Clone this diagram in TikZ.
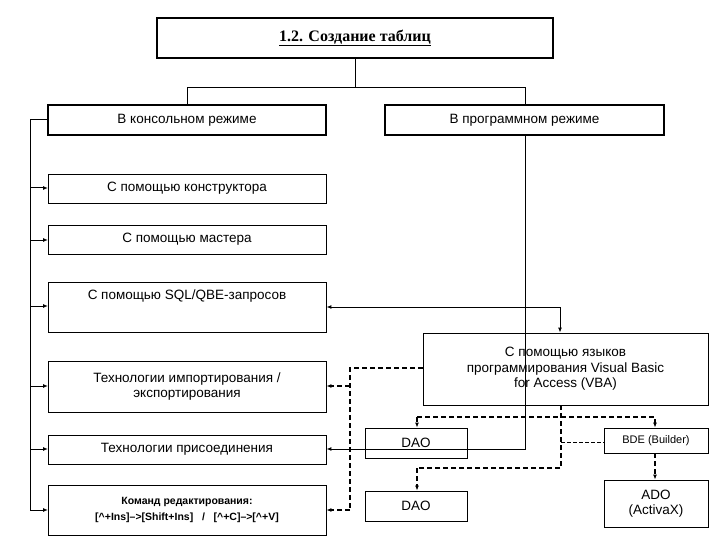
\documentclass[tikz,border=0pt]{standalone}
\usepackage{fontspec}
\setmainfont{Liberation Sans}
\newfontfamily\serifttl{Liberation Serif}
\usetikzlibrary{arrows.meta}
\begin{document}
\begin{tikzpicture}[x=1pt,y=-1pt,
  bx/.style={draw,line width=0.8pt,inner sep=0pt,font=\fontsize{13.5}{15.5}\selectfont,align=center},
  ar/.style={-{Latex[length=5pt,width=4pt]},line width=1pt},
  dar/.style={-{Latex[length=5pt,width=4pt]},line width=1.2pt,dash pattern=on 5pt off 3pt}]
\useasboundingbox (0,0) rectangle (720,540);
\newcommand{\bxat}[6]{\node[bx,minimum width=#3-#2,minimum height=#5-#4,#6] at ({(#2+#3)/2},{(#4+#5)/2})}
\bxat{t}{157}{553}{18}{58}{line width=1.6pt} (t) {\serifttl\bfseries\fontsize{16}{18}\selectfont\underline{1.2. Создание таблиц}};
\bxat{c}{48}{326}{105}{135}{line width=1.6pt} (c) {В консольном режиме};
\bxat{p}{385}{664}{105}{135}{line width=1.6pt} (p) {В программном режиме};
\bxat{k}{48}{326}{174}{203}{} (k) {С помощью конструктора};
\bxat{m}{48}{326}{225}{254}{} (m) {С помощью мастера};
\bxat{s}{48}{326}{282}{332}{} (s) {};
\node[font=\fontsize{13.5}{15.5}\selectfont] at (187,296) {С помощью SQL/QBE-запросов};
\bxat{i}{48}{326}{361}{412}{} (i) {Технологии импортирования /\\экспортирования};
\bxat{j}{48}{326}{435}{464}{} (j) {Технологии присоединения};
\bxat{r}{48}{326}{485}{535}{} (r) {\bfseries\fontsize{10.5}{20}\selectfont Команд редактирования:\\\bfseries\fontsize{10.5}{12}\selectfont[\^{}+Ins]--{}>[Shift+Ins] \ \ / \ \ [\^{}+C]--{}>[\^{}+V]};
\bxat{v}{423}{708}{333}{405}{} (v) {С помощью языков\\программирования Visual Basic\\for Access (VBA)};
\bxat{d1}{365}{467}{428}{458}{} (d1) {DAO};
\bxat{d2}{365}{467}{491}{521}{} (d2) {DAO};
\bxat{b}{604}{708}{428}{453}{font=\fontsize{11}{13}\selectfont} (b) {BDE (Builder)};
\bxat{a}{604}{708}{480}{527}{} (a) {ADO\\(ActivaX)};
% tree from title
\draw[line width=1pt] (t.south) -- (355,88) coordinate (q) -- (187,88) -- (187,105);
\draw[line width=1pt] (q) -- (525,88) -- (525,105);
% left bus
\coordinate (L) at (30,120);
\draw[line width=1pt] (c.west) -- (L) -- (30,510);
\foreach \n/\y in {k/188,m/240,s/306,i/386,j/449,r/510}
  \draw[ar] (30,\y) -- (48,\y);
% program to join
\draw[ar] (525,135) -- (525,449) -- (j.east |- 0,449);
% SQL <-> VBA
\draw[ar,{Latex[length=5pt,width=4pt]}-{Latex[length=5pt,width=4pt]}] (s.east |- 0,307) -- (560,307) -- (v.north -| 560,0);
% VBA dashed left
\draw[dar,-] (v.west |- 0,368) -- (350,368) -- (350,510);
\draw[dar] (350,386) -- (i.east |- 0,386);
\draw[dar] (350,510) -- (r.east |- 0,510);
% VBA to DAO1 & BDE
\draw[dar] (417,417) -- (d1.north -| 417,0);
\draw[dar] (417,417) -- (655,417) -- (b.north -| 655,0);
\draw[dar,-] (561,405) -- (561,468) -- (417,468);
\draw[dar] (417,468) -- (d2.north -| 417,0);
\draw[line width=0.6pt,dash pattern=on 4pt off 2pt] (561,442) -- (b.west |- 0,442);
\draw[dar] (b.south -| 655,0) -- (a.north -| 655,0);
\end{tikzpicture}
\end{document}
